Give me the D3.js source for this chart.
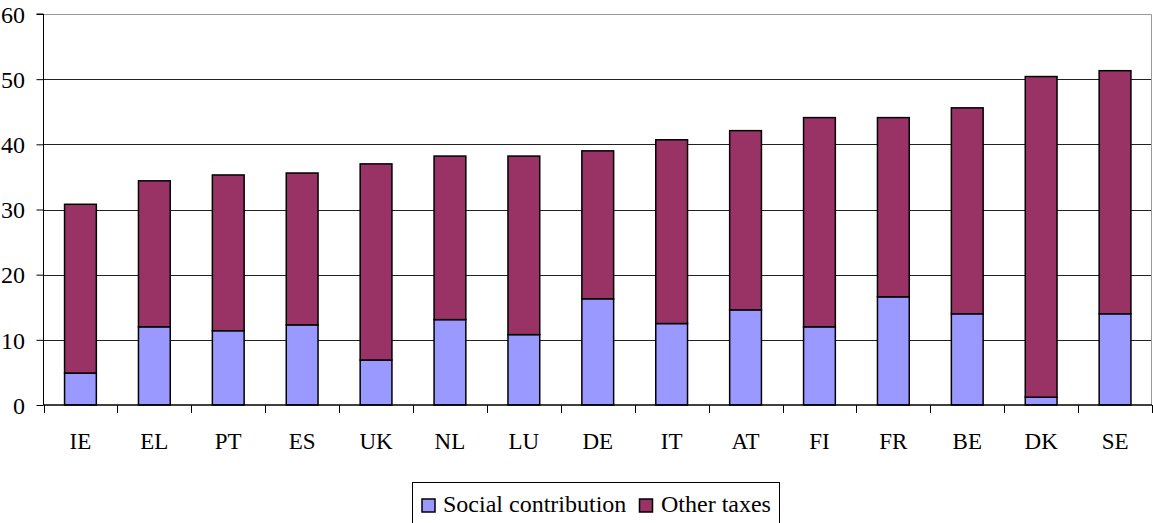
<!DOCTYPE html>
<html>
<head>
<meta charset="utf-8">
<script src="https://cdn.jsdelivr.net/npm/d3@7"></script>
<style>
  html, body { margin: 0; padding: 0; background: #fff; }
  svg { display: block; }
</style>
</head>
<body>
<svg id="chart" width="1153" height="523" font-family="Liberation Serif, Times New Roman, serif"></svg>
<script>
// Countries, ordered by total tax burden
const categories = ["IE", "EL", "PT", "ES", "UK", "NL", "LU", "DE", "IT", "AT", "FI", "FR", "BE", "DK", "SE"];
// Share of GDP (%)
const socialContribution = [4.9, 12.0, 11.4, 12.3, 6.9, 13.1, 10.8, 16.3, 12.5, 14.6, 12.0, 16.6, 14.0, 1.2, 14.0];
const otherTaxes        = [25.9, 22.4, 23.9, 23.3, 30.1, 25.1, 27.4, 22.7, 28.2, 27.5, 32.1, 27.5, 31.6, 49.2, 37.3];
const seriesNames = ["Social contribution", "Other taxes"];
const seriesColors = ["#9999FF", "#993366"];
const yTicks = [0, 10, 20, 30, 40, 50, 60];

const FONT = "Liberation Serif, Times New Roman, serif";
const svg = d3.select("#chart");
const margin = { left: 43.5, right: 1152, top: 14, bottom: 405 };

const x = d3.scaleBand().domain(categories).range([margin.left, margin.right]).paddingInner(0.57).paddingOuter(0.285);
const xBand = d3.scaleBand().domain(categories).range([margin.left, margin.right]);
const y = d3.scaleLinear().domain([0, 60]).range([margin.bottom, margin.top]);

// Gridlines
svg.append("g").selectAll("line").data(yTicks.filter(t => t > 0 && t < 60)).join("line")
  .attr("x1", margin.left).attr("x2", margin.right)
  .attr("y1", d => Math.round(y(d)) + 0.5).attr("y2", d => Math.round(y(d)) + 0.5)
  .attr("stroke", "#222").attr("stroke-width", 1);

// Plot frame (top and right)
svg.append("path")
  .attr("d", `M${margin.left},${Math.round(y(60)) + 0.5}H${margin.right - 0.5}V${margin.bottom}`)
  .attr("fill", "none").attr("stroke", "#999").attr("stroke-width", 1);

// Stacked bars
const rows = categories.map((c, i) => ({ cat: c, social: socialContribution[i], other: otherTaxes[i] }));
const stack = d3.stack().keys(["social", "other"])(rows);

svg.append("g").selectAll("g").data(stack).join("g")
  .attr("fill", (d, i) => seriesColors[i])
  .selectAll("rect").data(d => d).join("rect")
  .attr("x", d => x(d.data.cat))
  .attr("width", x.bandwidth())
  .attr("y", d => y(d[1]))
  .attr("height", d => y(d[0]) - y(d[1]))
  .attr("stroke", "#000").attr("stroke-width", 1.5);

// Y axis
const yAxis = d3.axisLeft(y).tickValues(yTicks).tickSize(7).tickPadding(11.5);
const gy = svg.append("g").attr("transform", `translate(${margin.left},0)`).call(yAxis);
gy.attr("font-family", FONT).attr("font-size", 24);
gy.select(".domain").attr("stroke", "#000").attr("d", `M-7,${margin.top}H0V${margin.bottom}`);
gy.selectAll(".tick line").attr("stroke", "#000");
gy.selectAll("text").attr("fill", "#000").attr("dy", "0.34em");

// X axis: tick marks at band boundaries, labels centered in bands
const gx = svg.append("g").attr("transform", `translate(0,${margin.bottom})`);
gx.append("line").attr("x1", margin.left).attr("x2", margin.right).attr("y1", 0).attr("y2", 0)
  .attr("stroke", "#000").attr("stroke-width", 1.5);
const boundaries = categories.map(c => xBand(c)).concat([margin.right - 0.5]);
gx.selectAll("line.tk").data(boundaries).join("line").attr("class", "tk")
  .attr("x1", d => Math.round(d) + 0.5).attr("x2", d => Math.round(d) + 0.5)
  .attr("y1", 0).attr("y2", 8).attr("stroke", "#000");
gx.selectAll("text").data(categories).join("text")
  .attr("x", d => xBand(d) + xBand.bandwidth() / 2)
  .attr("y", 44)
  .attr("text-anchor", "middle")
  .attr("font-family", FONT)
  .attr("font-size", 23)
  .attr("fill", "#000")
  .text(d => d);

// Legend
const legend = svg.append("g");
legend.append("rect").attr("x", 412.5).attr("y", 482.5).attr("width", 367).attr("height", 50)
  .attr("fill", "#fff").attr("stroke", "#000");
const items = [
  { name: seriesNames[0], color: seriesColors[0], sx: 422, tx: 443 },
  { name: seriesNames[1], color: seriesColors[1], sx: 639.5, tx: 661 }
];
items.forEach(it => {
  legend.append("rect").attr("x", it.sx).attr("y", 499).attr("width", 13).attr("height", 13)
    .attr("fill", it.color).attr("stroke", "#000").attr("stroke-width", 1.5);
  legend.append("text").attr("x", it.tx).attr("y", 512)
    .attr("font-family", FONT).attr("font-size", 24).attr("fill", "#000").text(it.name);
});
</script>
</body>
</html>
